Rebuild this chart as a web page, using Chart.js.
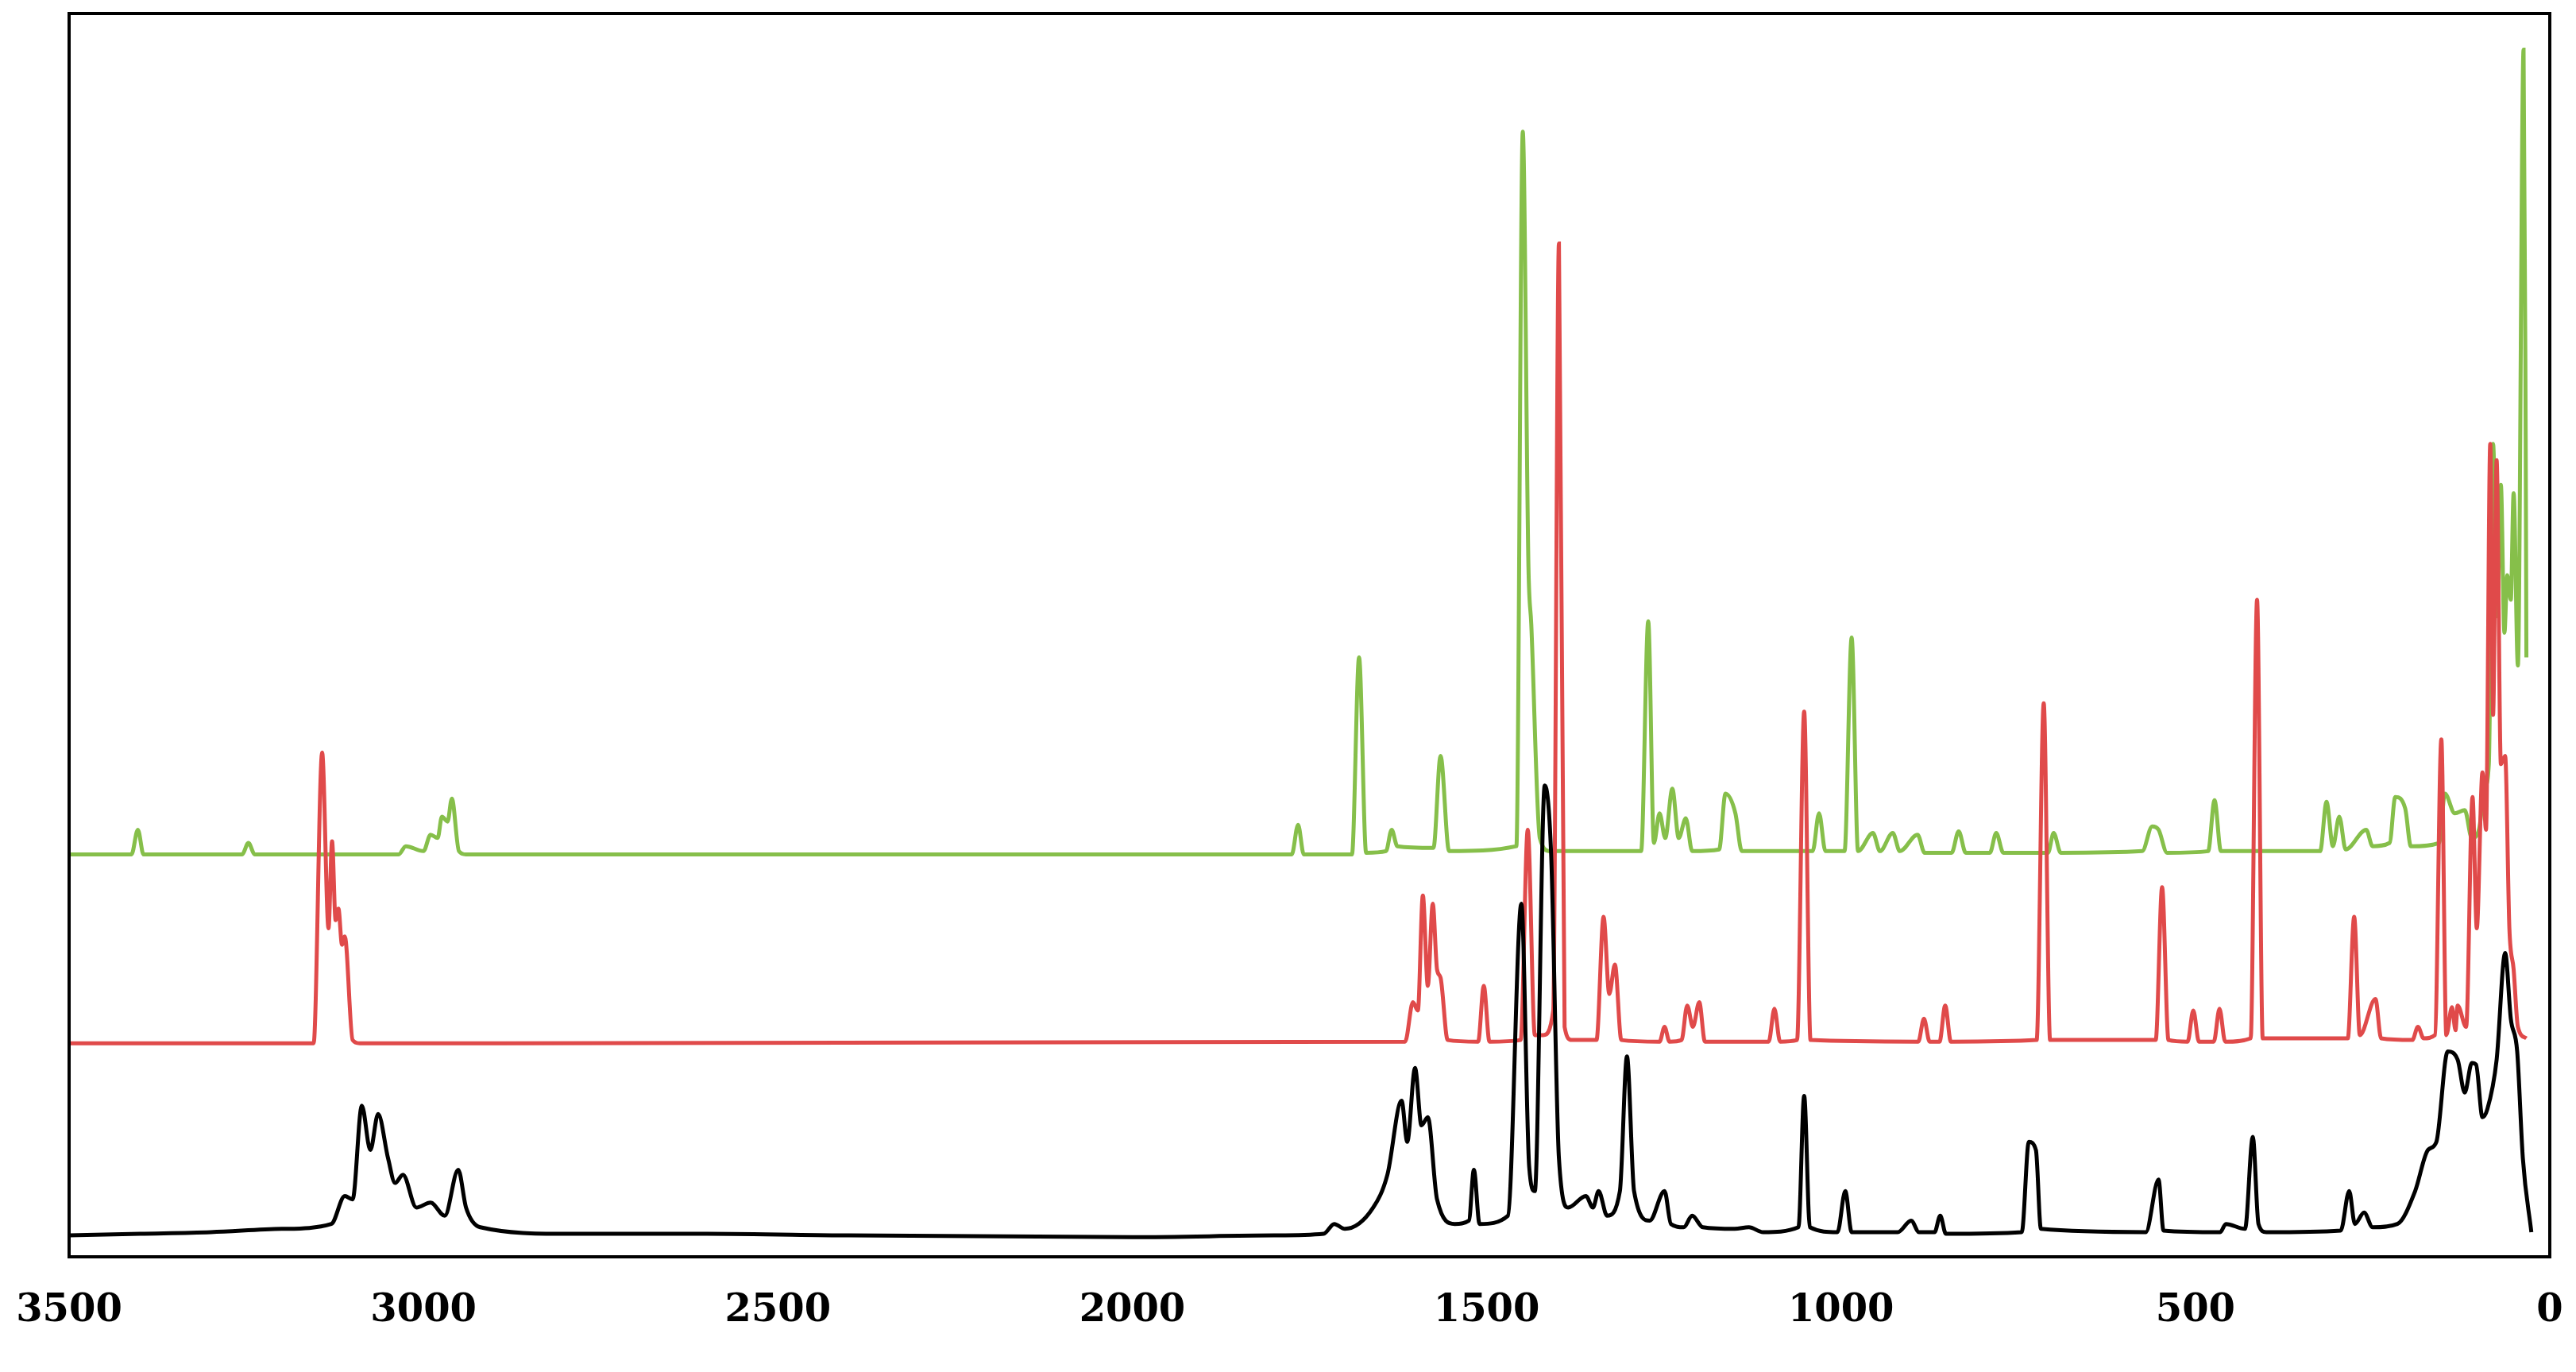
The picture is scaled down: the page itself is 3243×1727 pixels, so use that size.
<!DOCTYPE html>
<html>
<head>
<meta charset="utf-8">
<script src="https://cdn.jsdelivr.net/npm/chart.js@4"></script>
<style>
  html, body { margin: 0; padding: 0; background: #fff; }
  #wrap { width: 3243px; height: 1727px; }
</style>
</head>
<body>
<div id="wrap"><canvas id="spectra"></canvas></div>
<script>
// Spectra: [wavenumber, relative intensity]
const xTicks = [3500, 3000, 2500, 2000, 1500, 1000, 500, 0];

const greenSpectrum = [
  [3500,245],[3412,245],[3403,260],[3395,245],[3256,245],[3247,252],[3238,245],[3035,245],[3025,250],[3000,247],
  [2990,257],[2980,255],[2974,268],[2966,265],[2960,279],[2950,247],[2940,245],[1775,245],[1766,263],[1758,245],
  [1690,245],[1680,365],[1670,246],[1642,247],[1634,260],[1626,250],[1575,249],[1565,305],[1553,247],[1458,250],
  [1449,685],[1441,420],[1437,385],[1425,255],[1410,247],[1282,247],[1272,387],[1264,252],[1256,270],[1248,255],
  [1238,285],[1229,255],[1219,267],[1210,247],[1172,248],[1163,282],[1149,270],[1140,247],[1040,247],[1031,270],
  [1022,247],[995,247],[985,377],[976,247],[955,258],[945,247],[927,258],[917,247],[892,257],[882,246],
  [844,246],[834,259],[824,246],[790,246],[781,258],[771,246],[708,246],[700,258],[690,246],[575,247],
  [561,262],[552,260],[540,246],[482,247],[473,278],[464,247],[324,247],[315,277],[306,250],[297,268],
  [288,248],[259,260],[250,250],[226,252],[218,280],[204,273],[196,250],[156,252],[148,282],[134,270],
  [120,272],[110,255],[100,260],[92,285],[86,300],[80,495],[74,390],[69,470],[64,380],[60,415],
  [55,400],[51,465],[45,360],[37,735],[34,500],[33,365]
];

const redSpectrum = [
  [3500,130],[3155,130],[3143,307],[3134,200],[3129,253],[3124,205],[3120,212],[3115,190],[3111,195],[3100,132],
  [3090,130],[1615,131],[1604,155],[1597,150],[1590,220],[1583,165],[1576,215],[1570,175],[1565,170],[1555,132],
  [1512,131],[1504,165],[1496,131],[1452,132],[1442,260],[1432,135],[1420,135],[1406,150],[1398,617],[1390,140],
  [1380,132],[1345,132],[1335,207],[1327,160],[1319,178],[1310,132],[1256,131],[1249,140],[1242,131],[1225,132],
  [1217,153],[1209,140],[1200,155],[1192,131],[1102,131],[1094,151],[1086,131],[1062,132],[1052,332],[1043,132],
  [891,131],[883,145],[875,131],[861,131],[853,153],[845,131],[724,132],[714,337],[705,132],[556,132],
  [547,225],[538,132],[511,131],[503,150],[495,131],[474,131],[466,151],[458,131],[422,133],[413,400],
  [405,133],[285,133],[276,207],[268,135],[246,157],[238,133],[194,132],[186,140],[178,133],[162,135],
  [153,315],[146,135],[138,152],[133,138],[130,153],[118,140],[109,280],[103,200],[95,295],[90,260],
  [84,495],[80,330],[75,485],[69,300],[63,305],[57,200],[51,175],[45,140],[33,133]
];

const blackSpectrum = [
  [3500,13],[3400,14],[3300,15],[3200,17],[3130,20],[3111,37],[3100,35],[3087,92],[3075,65],[3064,87],
  [3050,60],[3040,45],[3029,50],[3010,30],[2990,33],[2970,25],[2951,53],[2940,30],[2920,18],[2800,14],
  [2600,14],[2400,13],[2000,12],[1800,13],[1730,14],[1715,20],[1700,17],[1660,30],[1640,50],[1620,95],
  [1612,70],[1601,115],[1592,80],[1583,85],[1570,35],[1545,20],[1525,22],[1518,53],[1510,20],[1470,25],
  [1451,215],[1440,55],[1432,40],[1418,287],[1409,245],[1398,60],[1385,30],[1360,37],[1350,30],[1342,40],
  [1330,25],[1312,40],[1302,122],[1292,40],[1270,22],[1249,40],[1240,20],[1222,18],[1210,25],[1195,18],
  [1150,17],[1130,18],[1110,15],[1060,18],[1052,98],[1044,18],[1005,15],[994,40],[985,15],[920,15],
  [901,22],[890,15],[868,15],[860,25],[852,14],[745,15],[735,70],[725,65],[718,17],[570,15],
  [552,47],[545,16],[465,15],[457,20],[430,17],[419,73],[411,20],[400,15],[295,16],[283,40],
  [275,20],[262,27],[250,18],[215,20],[190,40],[172,65],[160,70],[144,125],[130,120],[120,100],
  [110,118],[104,117],[95,85],[88,90],[75,120],[63,185],[55,145],[46,125],[38,60],[26,15]
];

const toPoints = arr => arr.map(p => ({ x: p[0], y: p[1] }));

// frame around the plot area
const framePlugin = {
  id: "frame",
  afterDraw(chart) {
    const a = chart.chartArea, c = chart.ctx;
    c.save();
    c.strokeStyle = "#000";
    c.lineWidth = 4;
    c.strokeRect(a.left, a.top, a.right - a.left, a.bottom - a.top);
    c.restore();
  }
};

function line(data, color) {
  return {
    data: toPoints(data), borderColor: color, borderWidth: 5, pointRadius: 0,
    showLine: true, cubicInterpolationMode: "monotone", fill: false,
  };
}

new Chart(document.getElementById("spectra"), {
  type: "scatter",
  data: {
    datasets: [
      line(blackSpectrum, "#000000"),
      line(redSpectrum, "#e04a4a"),
      line(greenSpectrum, "#86bf4a"),
    ],
  },
  options: {
    animation: false,
    responsive: true,
    maintainAspectRatio: false,
    layout: { padding: { left: 0, right: 0, top: 17, bottom: 0 } },
    scales: {
      x: {
        type: "linear",
        reverse: true,
        min: 0,
        max: 3500,
        afterBuildTicks: s => { s.ticks = xTicks.map(v => ({ value: v })); },
        afterFit: s => { s.height = 145; s.paddingLeft = 87; s.paddingRight = 33; },
        ticks: {
          color: "#000", padding: 32, maxRotation: 0,
          font: { family: "'DejaVu Serif', serif", weight: "bold", size: 48 },
          callback: v => String(v),
        },
        grid: { display: false },
        border: { display: false },
      },
      y: { display: false, min: 0, max: 757 },
    },
    plugins: { legend: { display: false }, tooltip: { enabled: false } },
  },
  plugins: [framePlugin],
});
</script>
</body>
</html>
